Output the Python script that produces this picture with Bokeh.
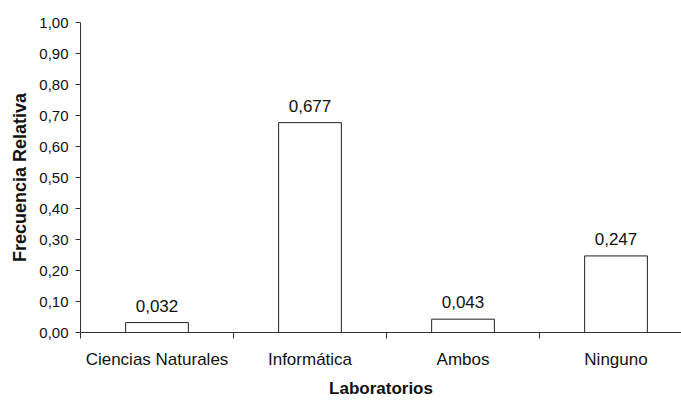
from bokeh.plotting import figure
from bokeh.models import Range1d, FixedTicker, CustomJSTickFormatter, ColumnDataSource, LabelSet
from bokeh.core.properties import value
from bokeh.embed import file_html
from bokeh.resources import INLINE

categories = ["Ciencias Naturales", "Informática", "Ambos", "Ninguno"]
values = [0.032, 0.677, 0.043, 0.247]
y_ticks = [0.0, 0.1, 0.2, 0.3, 0.4, 0.5, 0.6, 0.7, 0.8, 0.9, 1.0]

FONT = "Liberation Sans"

xs = [i + 0.5 for i in range(len(categories))]
labels = [f"{v:.3f}".replace(".", ",") for v in values]
src = ColumnDataSource(dict(x=xs, top=values, label=labels))

p = figure(width=681, height=400, output_backend="svg", toolbar_location=None,
           x_range=Range1d(0, 3.928), y_range=Range1d(0, 1.0),
           min_border_left=80, min_border_right=0, min_border_top=22, min_border_bottom=67)
p.outline_line_color = None
p.xgrid.grid_line_color = None
p.ygrid.grid_line_color = None
p.background_fill_color = "white"
p.border_fill_color = "white"

p.vbar(x="x", top="top", width=0.41, bottom=0, source=src,
       fill_color="white", line_color="#222222", line_width=1)

p.add_layout(LabelSet(x="x", y="top", text="label", source=src, y_offset=11,
                      text_align="center", text_baseline="alphabetic",
                      text_font=value(FONT), text_font_size=value("17px"),
                      text_color=value("#111111")))

# X axis
xa = p.xaxis[0]
xa.ticker = FixedTicker(ticks=xs, minor_ticks=list(range(len(categories) + 1)))
xa.major_label_overrides = {x: c for x, c in zip(xs, categories)}
xa.major_tick_line_color = None
xa.minor_tick_out = 6
xa.minor_tick_in = 0
xa.minor_tick_line_color = "#333333"
xa.axis_line_color = "#333333"
xa.major_label_standoff = 11
xa.major_label_text_font = FONT
xa.major_label_text_font_size = "17px"
xa.major_label_text_color = "#111111"
xa.axis_label = "Laboratorios"
xa.axis_label_text_font = FONT
xa.axis_label_text_font_size = "17px"
xa.axis_label_text_font_style = "bold"
xa.axis_label_text_color = "#111111"
xa.axis_label_standoff = 7

# Y axis
ya = p.yaxis[0]
ya.ticker = FixedTicker(ticks=y_ticks)
ya.formatter = CustomJSTickFormatter(code="return tick.toFixed(2).replace('.', ',');")
ya.major_tick_out = 5
ya.major_tick_in = 0
ya.minor_tick_line_color = None
ya.major_tick_line_color = "#333333"
ya.axis_line_color = "#333333"
ya.major_label_standoff = 7
ya.major_label_text_font = FONT
ya.major_label_text_font_size = "15px"
ya.major_label_text_color = "#111111"
ya.axis_label = "Frecuencia Relativa"
ya.axis_label_text_font = FONT
ya.axis_label_text_font_size = "18px"
ya.axis_label_text_font_style = "bold"
ya.axis_label_text_color = "#111111"
ya.axis_label_standoff = 6

open("out.html", "w").write(file_html(p, INLINE))
